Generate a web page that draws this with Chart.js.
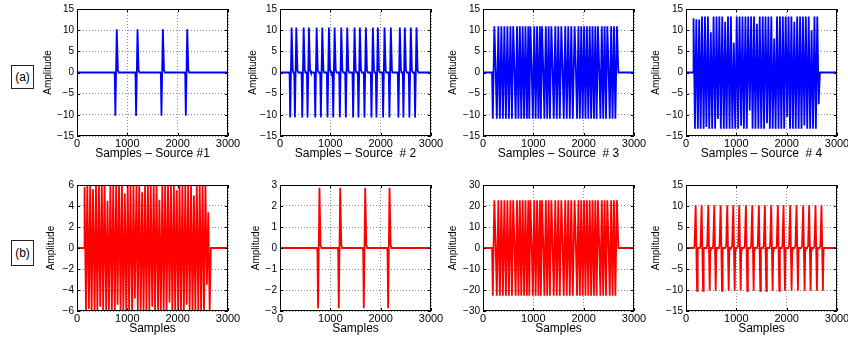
<!DOCTYPE html>
<html>
<head>
<meta charset="utf-8">
<script src="https://cdn.jsdelivr.net/npm/chart.js@4.4.0/dist/chart.umd.min.js"></script>
<style>
  html, body { margin: 0; padding: 0; background: #fff; }
  body { width: 848px; height: 338px; position: relative; overflow: hidden; font-family: "Liberation Sans", Arial, sans-serif; }
  canvas { position: absolute; }
  .tag { position: absolute; left: 11px; width: 23px; border: 1px solid #222; box-sizing: border-box; font-size: 12px; text-align: center; color: #000; }
</style>
</head>
<body>
<div class="tag" style="top:65px;height:24px;line-height:22px">(a)</div>
<div class="tag" style="top:240px;height:26px;line-height:24px">(b)</div>
<script>
// x axis (samples)
const X_TICKS = [0, 1000, 2000, 3000];

// y tick sets
const TICKS_15 = [-15, -10, -5, 0, 5, 10, 15];
const TICKS_6 = [-6, -4, -2, 0, 2, 4, 6];
const TICKS_3 = [-3, -2, -1, 0, 1, 2, 3];
const TICKS_30 = [-30, -20, -10, 0, 10, 20, 30];

const TITLES_A = ['Samples \u2013 Source #1', 'Samples \u2013 Source  # 2', 'Samples \u2013 Source  # 3', 'Samples \u2013 Source  # 4'];
const TITLE_B = 'Samples';

// pulse shape (offset in samples, relative height)
const PULSE_DT = [-50, -40, -28, 0, 22, 40];
const PULSE_SHAPE = [0, -0.05, -1, 1, 0.05, 0];

// (a) source 1 / (b) mixture 2 : four isolated spikes (times of the positive peak)
const SRC1_PEAKS = [790, 1202, 1706, 2190];
const SRC1_AMP = 10.2;
const MIX2_PEAKS = [784, 1196, 1693, 2176];
const MIX2_AMP = 2.87;

// (a) source 2 : spike train, negative lobe first
const SRC2_PEAKS = [231, 324, 470, 575, 728, 840, 972, 1085, 1217, 1336, 1481,
  1587, 1706, 1845, 1944, 2077, 2202, 2381, 2480, 2599, 2712];
const SRC2_AMP = 10.6;

// (b) mixture 4 : spike train, positive lobe first
const MIX4_PEAKS = [192, 311, 443, 562, 688, 820, 939, 1058, 1190, 1316, 1448,
  1567, 1693, 1825, 1938, 2070, 2196, 2328, 2447, 2573, 2692];
const MIX4_AMP = 10.2;

// (a) source 3 / (b) mixture 3 : dense train, vertices
const SRC3_T = [
  0, 180,
  195, 225, 252,
  275, 305, 335, 365, 395, 425, 455, 485, 515, 545, 575, 600, 626,
  648, 676, 704, 732, 760, 788, 816, 844, 872, 900, 920, 942, 968,
  990, 1018, 1046, 1074, 1102, 1130, 1150, 1172, 1198,
  1220, 1248, 1276, 1304, 1330, 1358, 1384,
  1406, 1436, 1466, 1496, 1526, 1556, 1582,
  1604, 1634, 1664, 1694, 1724, 1754, 1784, 1820, 1846,
  1868, 1896, 1924, 1952, 1980, 2008, 2036, 2064, 2092, 2120, 2148, 2176, 2204, 2232, 2258, 2284, 2310,
  2332, 2360, 2388, 2416, 2444, 2470, 2496,
  2518, 2546, 2574, 2602, 2630, 2660, 2690, 3000
];
const SRC3_V = [
  0, 0,
  -10.9, 10.9, 0.5,
  -10.9, 10.9, -10.9, 10.9, -10.9, 10.9, -10.9, 10.9, -10.9, 10.9, -10.9, 10.9, 0.5,
  -10.9, 10.9, -10.9, 10.9, -10.9, 10.9, -10.9, 10.9, -10.9, 10.9, -10.9, 10.9, 0.5,
  -10.9, 10.9, -10.9, 10.9, -10.9, 10.9, -10.9, 10.9, 0.5,
  -10.9, 10.9, -10.9, 10.9, -10.9, 10.9, 0.5,
  -10.9, 10.9, -10.9, 10.9, -10.9, 10.9, 0.5,
  -10.9, 10.9, -10.9, 10.9, -10.9, 10.9, -10.9, 10.9, 0.5,
  -10.9, 10.9, -10.9, 10.9, -10.9, 10.9, -10.9, 10.9, -10.9, 10.9, -10.9, 10.9, -10.9, 10.9, -10.9, 10.9, 0.5,
  -10.9, 10.9, -10.9, 10.9, -10.9, 10.9, 0.5,
  -10.9, 10.9, -10.9, 10.9, -10.9, 10.9, 0, 0
];
const MIX3_V = [
  0, 0,
  -22.7, 22.7, 1,
  -22.7, 22.7, -22.7, 22.7, -22.7, 22.7, -22.7, 22.7, -22.7, 22.7, -22.7, 22.7, 1,
  -22.7, 22.7, -22.7, 22.7, -22.7, 22.7, -22.7, 22.7, -22.7, 22.7, -22.7, 22.7, 1,
  -22.7, 22.7, -22.7, 22.7, -22.7, 22.7, -22.7, 22.7, 1,
  -22.7, 22.7, -22.7, 22.7, -22.7, 22.7, 1,
  -22.7, 22.7, -22.7, 22.7, -22.7, 22.7, 1,
  -22.7, 22.7, -22.7, 22.7, -22.7, 22.7, -22.7, 22.7, 1,
  -22.7, 22.7, -22.7, 22.7, -22.7, 22.7, -22.7, 22.7, -22.7, 22.7, -22.7, 22.7, -22.7, 22.7, -22.7, 22.7, 1,
  -22.7, 22.7, -22.7, 22.7, -22.7, 22.7, 1,
  -22.7, 22.7, -22.7, 22.7, -22.7, 22.7, 0, 0
];

// (a) source 4 / (b) mixture 1 : noise-like, vertices
const DENSE_T = [
  0, 140,
  150, 178, 205, 236, 262, 291, 318, 350, 377, 405,
  436, 462, 493, 520, 548, 579, 606, 634, 663, 692,
  720, 751, 778, 806, 835, 866, 892, 921, 950, 978,
  1008, 1036, 1064, 1095, 1122, 1150, 1181, 1208, 1236, 1266,
  1294, 1323, 1352, 1380, 1409, 1438, 1465, 1495, 1524, 1551,
  1580, 1610, 1637, 1666, 1695, 1722, 1752, 1780, 1808, 1838,
  1866, 1894, 1924, 1951, 1980, 2010, 2037, 2066, 2094, 2123,
  2152, 2180, 2209, 2238, 2266, 2295, 2323, 2352, 2380, 2409,
  2438, 2466, 2495, 2523, 2552, 2580, 2608, 2636,
  2660, 3000
];
const SRC4_V = [
  0, 0,
  12.8, -13.3, 12.6, -13.3, 12.5, -13.3, 13.2, -13.3, 13.2, -12.9,
  13.2, -13.3, 9.5, -13.3, 13.2, -13.3, 13.2, -11.0, 13.2, -13.3,
  13.2, -13.3, 12.0, -13.3, 13.2, -13.3, 13.2, -13.3, 7.0, -13.3,
  13.2, -13.3, 13.2, -12.6, 13.2, -13.3, 13.2, -13.3, 13.2, -9.0,
  13.2, -13.3, 13.2, -13.3, 11.5, -13.3, 13.2, -13.3, 13.2, -13.3,
  13.2, -12.0, 13.2, -13.3, 13.2, -13.3, 8.0, -13.3, 13.2, -13.3,
  13.2, -13.3, 13.2, -13.3, 13.2, -10.5, 13.2, -13.3, 13.2, -13.3,
  12.0, -13.3, 13.2, -13.3, 13.2, -13.3, 13.2, -12.5, 13.2, -13.3,
  13.2, -13.3, 10.0, -13.3, 13.2, -13.3, 13.2, -7.5,
  0, 0
];
const MIX1_V = [
  0, 0,
  5.8, -5.9, 5.9, -5.8, 5.9, -5.9, 5.6, -5.9, 5.9, -5.9,
  5.9, -5.6, 5.9, -5.9, 5.9, -5.9, 4.5, -5.9, 5.9, -5.9,
  5.9, -5.9, 5.9, -5.4, 5.9, -5.9, 5.9, -5.9, 5.2, -5.9,
  5.9, -5.9, 5.9, -5.9, 5.9, -4.8, 5.9, -5.9, 5.9, -5.9,
  5.3, -5.9, 5.9, -5.9, 5.9, -5.9, 5.9, -5.6, 5.9, -5.9,
  5.9, -5.9, 4.6, -5.9, 5.9, -5.9, 5.9, -5.9, 5.9, -5.2,
  5.9, -5.9, 5.9, -5.9, 5.5, -5.9, 5.9, -5.9, 5.9, -5.9,
  5.9, -5.4, 5.9, -5.9, 5.9, -5.9, 5.0, -5.9, 5.9, -5.9,
  5.9, -5.9, 5.9, -5.9, 5.9, -3.5, 3.4, -5.9,
  0, 0
];

// page geometry
const FONT = '"Liberation Sans", Arial, Helvetica, sans-serif';
const PLOT_LEFT = [77, 280, 483, 686];
const PLOT_W = 151;
const ROW_TOP = [9, 185];
const ROW_H = [127, 126];
const BLUE = '#0000ff';
const RED = '#ff0000';

function pulseTrain(peaks, amp, posFirst) {
  const dt = posFirst ? PULSE_DT.map(d => -d).reverse() : PULSE_DT;
  const sh = posFirst ? PULSE_SHAPE.slice().reverse() : PULSE_SHAPE;
  const pts = [{ x: 0, y: 0 }];
  peaks.forEach(p => {
    dt.forEach((d, i) => {
      const x = p + d;
      if (x > pts[pts.length - 1].x) pts.push({ x: x, y: amp * sh[i] });
    });
  });
  pts.push({ x: 3000, y: 0 });
  return pts;
}

function series(ts, vs) {
  return ts.map((t, i) => ({ x: t, y: vs[i] }));
}

function fmt(v) {
  return v < 0 ? '\u2212' + (-v) : String(v);
}

const frame = {
  id: 'frame',
  afterDraw(chart) {
    const { ctx, chartArea: a, scales: { x, y } } = chart;
    ctx.save();
    ctx.strokeStyle = '#000';
    ctx.lineWidth = 1;
    ctx.beginPath();
    ctx.rect(a.left + 0.5, a.top + 0.5, a.width - 1, a.height - 1);
    x.ticks.forEach(t => {
      const p = Math.round(x.getPixelForValue(t.value)) + 0.5;
      ctx.moveTo(p, a.bottom); ctx.lineTo(p, a.bottom - 3);
      ctx.moveTo(p, a.top); ctx.lineTo(p, a.top + 3);
    });
    y.ticks.forEach(t => {
      const p = Math.round(y.getPixelForValue(t.value)) + 0.5;
      ctx.moveTo(a.left, p); ctx.lineTo(a.left + 3, p);
      ctx.moveTo(a.right, p); ctx.lineTo(a.right - 3, p);
    });
    ctx.stroke();
    ctx.restore();
  }
};

const panels = [
  { row: 0, col: 0, pts: pulseTrain(SRC1_PEAKS, SRC1_AMP, false), ticks: TICKS_15, title: TITLES_A[0], color: BLUE, gap: 29 },
  { row: 0, col: 1, pts: pulseTrain(SRC2_PEAKS, SRC2_AMP, false), ticks: TICKS_15, title: TITLES_A[1], color: BLUE, gap: 27 },
  { row: 0, col: 2, pts: series(SRC3_T, SRC3_V), ticks: TICKS_15, title: TITLES_A[2], color: BLUE, gap: 30 },
  { row: 0, col: 3, pts: series(DENSE_T, SRC4_V), ticks: TICKS_15, title: TITLES_A[3], color: BLUE, gap: 30 },
  { row: 1, col: 0, pts: series(DENSE_T, MIX1_V), ticks: TICKS_6, title: TITLE_B, color: RED, gap: 26 },
  { row: 1, col: 1, pts: pulseTrain(MIX2_PEAKS, MIX2_AMP, false), ticks: TICKS_3, title: TITLE_B, color: RED, gap: 24 },
  { row: 1, col: 2, pts: series(SRC3_T, MIX3_V), ticks: TICKS_30, title: TITLE_B, color: RED, gap: 30 },
  { row: 1, col: 3, pts: pulseTrain(MIX4_PEAKS, MIX4_AMP, true), ticks: TICKS_15, title: TITLE_B, color: RED, gap: 30 }
];

panels.forEach(spec => {
  const W = spec.gap + 6;
  const padTop = 9, padRight = 12;
  const H = 28;
  const cv = document.createElement('canvas');
  cv.width = W + PLOT_W + padRight;
  cv.height = padTop + ROW_H[spec.row] + H;
  cv.style.left = (PLOT_LEFT[spec.col] - W) + 'px';
  cv.style.top = (ROW_TOP[spec.row] - padTop) + 'px';
  document.body.appendChild(cv);

  new Chart(cv, {
    type: 'line',
    data: {
      datasets: [{
        data: spec.pts,
        borderColor: spec.color,
        borderWidth: 1.8,
        pointRadius: 0,
        tension: 0,
        fill: false
      }]
    },
    options: {
      responsive: false,
      animation: false,
      devicePixelRatio: 1,
      layout: { padding: { left: 0, top: padTop, right: padRight, bottom: 0 } },
      plugins: { legend: { display: false }, tooltip: { enabled: false } },
      scales: {
        x: {
          type: 'linear',
          min: 0,
          max: 3000,
          afterBuildTicks: s => { s.ticks = X_TICKS.map(v => ({ value: v })); },
          grid: { color: '#8a8a8a', drawTicks: false },
          border: { display: false, dash: [1, 2] },
          ticks: {
            color: '#000', font: { family: FONT, size: 11 }, padding: 1,
            maxRotation: 0, autoSkip: false, callback: v => String(v)
          },
          title: { display: true, text: spec.title, color: '#000', font: { family: FONT, size: 12 }, padding: { top: 0, bottom: 3 } },
          afterFit: s => { s.height = H; s.paddingLeft = 0; s.paddingRight = 0; }
        },
        y: {
          type: 'linear',
          min: spec.ticks[0],
          max: spec.ticks[spec.ticks.length - 1],
          afterBuildTicks: s => { s.ticks = spec.ticks.map(v => ({ value: v })); },
          grid: { color: '#8a8a8a', drawTicks: false },
          border: { display: false, dash: [1, 2] },
          ticks: { color: '#000', font: { family: FONT, size: 10 }, padding: 3, callback: v => fmt(v) },
          title: { display: true, text: 'Amplitude', color: '#000', font: { family: FONT, size: 10 }, padding: { top: 0, bottom: 0 } },
          afterFit: s => { s.width = W; s.paddingTop = 0; s.paddingBottom = 0; }
        }
      }
    },
    plugins: [frame]
  });
});
</script>
</body>
</html>
